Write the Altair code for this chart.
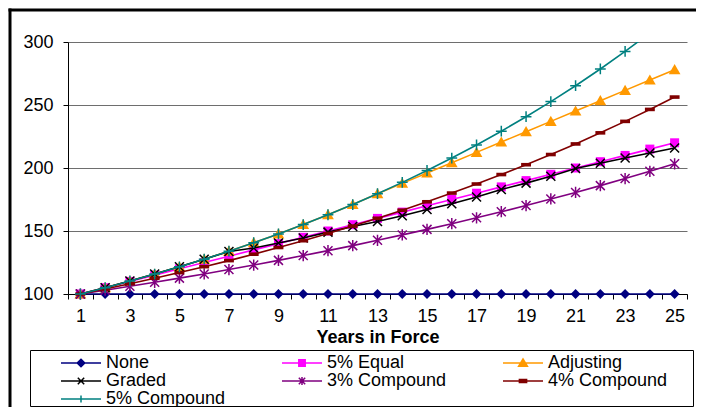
import altair as alt
import pandas as pd

years = list(range(1, 26))
series_names = ["None", "5% Equal", "Adjusting", "Graded", "3% Compound", "4% Compound", "5% Compound"]
none_vals = [100] * 25
equal5_vals = [100, 105, 110, 115, 120, 125, 130, 135, 140, 145, 150, 155, 160, 165, 170,
               175, 180, 185, 190, 195, 200, 205, 210, 215, 220]
adjusting_vals = [100, 105, 110.3, 115.8, 121.6, 127.6, 134, 140.7, 147.7, 155.1, 162.9, 171, 179.6,
                  187.8, 196, 204.2, 212.4, 220.6, 228.8, 237, 245.2, 253.4, 261.6, 269.8, 278]
graded_vals = [100, 105, 110.3, 115.8, 121.6, 127.6, 133.8, 136.5, 140.5, 144.5, 149.1, 153.5, 157.6,
               162.1, 167, 171.7, 177, 183, 188, 193.4, 199.6, 203.7, 207.9, 211.9, 215.9]
comp3_vals = [100, 103, 106.1, 109.3, 112.6, 115.9, 119.4, 123, 126.7, 130.5, 134.4, 138.4, 142.6,
              146.9, 151.3, 155.8, 160.5, 165.3, 170.2, 175.4, 180.6, 186, 191.6, 197.4, 203.3]
comp4_vals = [100, 104, 108.2, 112.5, 117, 121.7, 126.5, 131.6, 136.9, 142.3, 148, 153.9, 160.1,
              166.5, 173.2, 180.1, 187.3, 194.8, 202.6, 210.7, 219.1, 227.9, 237, 246.5, 256.3]
comp5_vals = [100, 105, 110.3, 115.8, 121.6, 127.6, 134, 140.7, 147.7, 155.1, 162.9, 171, 179.6,
              188.6, 198, 207.9, 218.3, 229.2, 240.7, 252.7, 265.3, 278.6, 292.5, 307.2, 322.5]
y_ticks = [100, 150, 200, 250, 300]

colors = ["#000080", "#FF00FF", "#FF9900", "#000000", "#800080", "#800000", "#008080"]

# marker shapes (custom paths, unit = sqrt(size)/2)
marker_paths = {
    "None": "M0,-1.1L1.1,0L0,1.1L-1.1,0Z",
    "5% Equal": "M-1,-1L1,-1L1,1L-1,1Z",
    "Adjusting": "M0,-1.25L1.3,1L-1.3,1Z",
    "Graded": "M-1,-1L1,1M-1,1L1,-1",
    "3% Compound": "M-1,-1L1,1M-1,1L1,-1M0,-1.25L0,1.25",
    "4% Compound": "M-1.1,-0.4L1.1,-0.4L1.1,0.4L-1.1,0.4Z",
    "5% Compound": "M-1.2,0L1.2,0M0,-1.2L0,1.2",
}
filled_marker = {"None": True, "5% Equal": True, "Adjusting": True, "Graded": False,
                 "3% Compound": False, "4% Compound": True, "5% Compound": False}

# legend symbols: line segment + marker shifted to the middle of the segment
legend_marker = {
    "None": "M3.75,-0.95L4.7,0L3.75,0.95L2.8,0Z",
    "5% Equal": "M2.95,-0.8L4.55,-0.8L4.55,0.8L2.95,0.8Z",
    "Adjusting": "M3.75,-1L4.85,0.8L2.65,0.8Z",
    "Graded": "M2.95,-0.8L4.55,0.8M2.95,0.8L4.55,-0.8",
    "3% Compound": "M2.95,-0.8L4.55,0.8M2.95,0.8L4.55,-0.8M3.75,-1L3.75,1",
    "4% Compound": "M2.85,-0.4L4.65,-0.4L4.65,0.4L2.85,0.4Z",
    "5% Compound": "M2.85,0L4.65,0M3.75,-0.9L3.75,0.9",
}
legend_paths = ["M-1.25,0L8.75,0" + legend_marker[n] for n in series_names]

all_vals = [none_vals, equal5_vals, adjusting_vals, graded_vals, comp3_vals, comp4_vals, comp5_vals]
rows = []
for name, vals in zip(series_names, all_vals):
    for yr, v in zip(years, vals):
        rows.append({"year": yr, "value": v, "series": name})
df = pd.DataFrame(rows)

FONT = "Liberation Sans"

x_enc = alt.X(
    "year:O",
    bandPosition=0.5,
    scale=alt.Scale(type="band", paddingInner=0, paddingOuter=0),
    axis=alt.Axis(
        title="Years in Force",
        titleFont=FONT, titleFontSize=18, titleFontWeight="bold", titleColor="black",
        titlePadding=3,
        labelFont=FONT, labelFontSize=18, labelColor="black", labelAngle=0,
        labelExpr="datum.value % 2 == 1 ? datum.label : ''",
        labelPadding=8,
        tickBand="extent", tickSize=5, tickColor="black", tickWidth=1,
        domainColor="black", domainWidth=1, grid=False,
    ),
)
y_enc = alt.Y(
    "value:Q",
    scale=alt.Scale(domain=[100, 300], nice=False, zero=False),
    axis=alt.Axis(
        title=None, values=y_ticks,
        labelFont=FONT, labelFontSize=18, labelColor="black", labelPadding=10,
        tickSize=5, tickColor="black", domainColor="black", domainWidth=1,
        grid=True, gridColor="#6e6e6e", gridWidth=1,
    ),
)

frame = pd.DataFrame({"k": [0]})
border_left = alt.Chart(frame).mark_rule(color="black", strokeWidth=3).encode(
    x=alt.value(-58), y=alt.value(-33.5), y2=alt.value(365)
)
# top frame edge drawn as a very wide, very short vertical stroke
border_top = alt.Chart(frame).mark_rule(color="black", strokeWidth=687.5, strokeCap="butt").encode(
    x=alt.value(284.25), y=alt.value(-33.5), y2=alt.value(-30.5)
)
legend_box = alt.Chart(frame).mark_rect(fill="white", stroke="black", strokeWidth=1).encode(
    x=alt.value(-37.5), x2=alt.value(625.5), y=alt.value(308.5), y2=alt.value(364.5)
)

layers = [border_left, border_top, legend_box]
for name, col in zip(series_names, colors):
    sub = alt.Chart(df).transform_filter(alt.datum.series == name)
    line = sub.mark_line(color=col, strokeWidth=1.6, clip=(name == "5% Compound")).encode(x=x_enc, y=y_enc)
    pts = sub.transform_filter(alt.datum.value <= 300).mark_point(
        shape=marker_paths[name], size=81, filled=filled_marker[name],
        color=col, opacity=1, strokeWidth=1.5,
    ).encode(x=x_enc, y=y_enc)
    layers += [line, pts]

leg_df = pd.DataFrame({"name": series_names})
leg = alt.Legend(
    title=None, orient="none", legendX=-11, legendY=312, columns=3, columnPadding=52,
    direction="horizontal",
    rowPadding=0, labelFont=FONT, labelFontSize=18, labelColor="black", labelOffset=31,
    symbolSize=64, symbolStrokeWidth=1.5, symbolOpacity=1, padding=0,
)
legend_layer = alt.Chart(leg_df).transform_filter("false").mark_point(filled=True, opacity=1).encode(
    fill=alt.Fill("name:N", scale=alt.Scale(domain=series_names, range=colors), legend=leg),
    stroke=alt.Stroke("name:N", scale=alt.Scale(domain=series_names, range=colors), legend=leg),
    shape=alt.Shape("name:N", scale=alt.Scale(domain=series_names, range=legend_paths), legend=leg),
)
layers.append(legend_layer)

chart = alt.layer(*layers).properties(
    width=619, height=252,
    autosize=alt.AutoSizeParams(type="none"),
    padding={"left": 60, "top": 34, "right": 9, "bottom": 113},
    title=alt.Title(
        "Relative Maximums - Issue Age 55", font=FONT, fontSize=22.8, fontWeight="bold",
        color="black", anchor="middle", frame="group", baseline="alphabetic", offset=-47, dx=-22,
    ),
    background="white",
).configure_view(stroke="transparent")

chart.save("out.html", embed_options={"renderer": "svg", "actions": False})
